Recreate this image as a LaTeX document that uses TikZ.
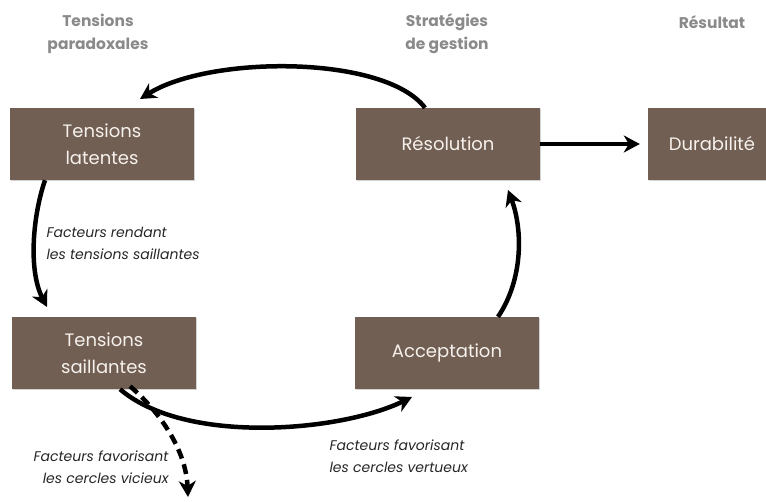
\documentclass[tikz,border=0pt]{standalone}
\usepackage{fontspec}
\setmainfont{Poppins}
\usetikzlibrary{arrows.meta,shadows}
\definecolor{boxbrown}{HTML}{725F54}
\definecolor{headgray}{HTML}{8A8A8A}
\definecolor{boxtext}{HTML}{F6F1EC}
\tikzset{
  stagebox/.style={fill=boxbrown, text=boxtext, minimum width=184pt, minimum height=72pt,
    align=center, font=\fontsize{18}{27}\selectfont, inner sep=0pt,
    drop shadow={opacity=0.35, shadow xshift=1pt, shadow yshift=-1.5pt}},
  header/.style={text=headgray, align=center, font=\fontseries{sb}\selectfont\fontsize{15.5}{23}\selectfont},
  factor/.style={font=\itshape\fontsize{14}{22}\selectfont, text=black!85},
  arr/.style={line width=4.5pt, -{Stealth[length=16pt,width=17pt,inset=5pt]}},
  darr/.style={arr, dash pattern=on 10pt off 6pt},
}
\begin{document}
\begin{tikzpicture}[x=1pt,y=-1pt]
\useasboundingbox (0,0) rectangle (766,502);
% headers
\node[header] (h1) at (98,34) {Tensions\\paradoxales};
\node[header] (h2) at (447,34) {Stratégies\\de gestion};
\node[header] (h3) at (712,22) {Résultat};
% boxes
\node[stagebox] (lat) at (102,144) {Tensions\\latentes};
\node[stagebox] (res) at (448,144) {Résolution};
\node[stagebox, minimum width=128pt] (dur) at (712,144) {Durabilité};
\node[stagebox] (sai) at (104,353) {Tensions\\saillantes};
\node[stagebox] (acc) at (447,353) {Acceptation};
% labels
\node[factor, align=left, anchor=west] (f1) at (43,243) {Facteurs rendant\\les tensions saillantes};
\node[factor, align=left, anchor=west] (f2) at (326,456) {Facteurs favorisant\\les cercles vertueux};
\node[factor, align=right, anchor=east] (f3) at (172,467) {Facteurs favorisant\\les cercles vicieux};
% coordinates
\coordinate (tipA) at (140,99);
\coordinate (tipB) at (47,307);
\coordinate (tipC) at (412,397);
\coordinate (tipD) at (508,190);
\coordinate (tipE) at (188,497);
% connectors
\draw[arr] ([xshift=-23pt]res.north) .. controls (385,55) and (210,55) .. (tipA);
\draw[arr] ([xshift=-57pt]lat.south) .. controls (33,215) and (28,270) .. (tipB);
\draw[arr] ([xshift=16pt]sai.south) .. controls (185,445) and (340,432) .. (tipC);
\draw[arr] ([xshift=51pt]acc.north) .. controls (523,280) and (523,230) .. (tipD);
\draw[arr] (res.east) -- ([xshift=-8pt]dur.west);
\draw[darr] ([xshift=26pt,yshift=3pt]sai.south) .. controls (160,412) and (186,450) .. (tipE);
\end{tikzpicture}
\end{document}
